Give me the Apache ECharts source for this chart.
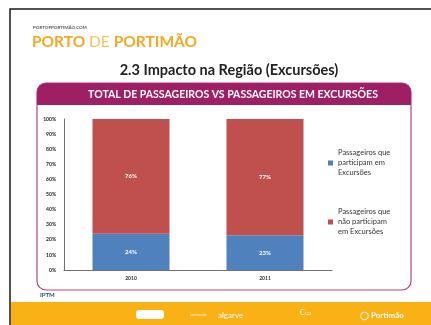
<!DOCTYPE html>
<html>
<head>
<meta charset="utf-8">
<script src="https://cdn.jsdelivr.net/npm/echarts@6/dist/echarts.min.js"></script>
<style>
  html, body { margin: 0; padding: 0; background: #fff; }
  #chart { width: 431px; height: 325px; }
</style>
</head>
<body>
<div id="chart"></div>
<script>
// Share of cruise passengers taking part in shore excursions, per year
const years = ['2010', '2011'];
const seriesNames = [
  'Passageiros que participam em Excursões',
  'Passageiros que não participam em Excursões'
];
const withExcursion = [24, 23];     // %
const withoutExcursion = [76, 77];  // %
const yTicks = [0, 10, 20, 30, 40, 50, 60, 70, 80, 90, 100];

const FONT = 'Lato, "Open Sans", sans-serif';
const PURPLE = '#9E1F63';
const ORANGE = '#F9B115';

const chart = echarts.init(document.getElementById('chart'));

// legend labels wrapped onto three lines
const wrapLegend = name => name === seriesNames[0]
  ? 'Passageiros que\nparticipam em\nExcursões'
  : 'Passageiros que\nnão participam\nem Excursões';

chart.setOption({
  animation: false,
  backgroundColor: '#fff',
  graphic: [
    // slide frame
    { type: 'rect', shape: { x: 10, y: 9, width: 430, height: 330 },
      style: { fill: '#fff', stroke: '#1a1a1a', lineWidth: 1.5 }, z: -10 },
    // footer band
    { type: 'rect', shape: { x: 11, y: 302, width: 425, height: 30 },
      style: { fill: ORANGE }, z: -5 },
    { type: 'text', x: 33, y: 25, style: { text: 'PORTOFPORTIMÃO.COM', font: 'bold 4.5px ' + FONT, fill: '#555' } },
    { type: 'text', x: 32, y: 34, style: { rich: {
        a: { fontSize: 15.5, fontWeight: 'bold', fill: '#F7A823', fontFamily: FONT },
        b: { fontSize: 15.5, fontWeight: 'normal', fill: '#F9C25C', fontFamily: FONT }
      }, text: '{a|PORTO }{b|DE }{a|PORTIMÃO}' } },
    { type: 'text', x: 229, y: 70, style: { text: '2.3 Impacto na Região (Excursões)', fontSize: 14.5, fontWeight: 'bold',
        fontFamily: FONT, fill: '#222', align: 'center', verticalAlign: 'middle' } },
    // chart box + header band
    { type: 'rect', shape: { x: 37, y: 83, width: 374, height: 207, r: 9 },
      style: { fill: '#fff', stroke: '#B8457F', lineWidth: 1.2 }, z: -4 },
    { type: 'rect', shape: { x: 37, y: 83, width: 374, height: 22, r: [9, 9, 0, 0] },
      style: { fill: PURPLE }, z: -3 },
    { type: 'text', x: 233, y: 95, style: { text: 'TOTAL DE PASSAGEIROS VS PASSAGEIROS EM EXCURSÕES', fontSize: 10.5,
        fontWeight: 'bold', fontFamily: FONT, fill: '#fff', align: 'center', verticalAlign: 'middle' } },
    { type: 'text', x: 40, y: 292, style: { text: 'IPTM', fontSize: 6, fontWeight: 'bold', fontFamily: FONT, fill: '#2F4A7A' } },
    // footer marks
    { type: 'rect', shape: { x: 136, y: 310, width: 28, height: 9, r: 3 }, style: { fill: '#fff' } },
    { type: 'text', x: 190, y: 315, style: { text: 'turismo do', fontSize: 3.5, fontFamily: FONT, fill: '#fff', verticalAlign: 'middle' } },
    { type: 'text', x: 218, y: 315, style: { text: 'algarve', fontSize: 8, fontFamily: FONT, fill: '#fff', verticalAlign: 'middle' } },
    { type: 'text', x: 300, y: 313, style: { text: 'C▭', fontSize: 7, fontFamily: FONT, fill: '#fff', verticalAlign: 'middle' } },
    { type: 'text', x: 360, y: 315, style: { text: '◯ Portimão', fontSize: 8, fontWeight: 'bold', fontFamily: FONT, fill: '#fff', verticalAlign: 'middle' } }
  ],
  grid: { left: 64, right: 99, top: 119, bottom: 55 },
  legend: {
    orient: 'vertical',
    left: 328, top: 138,
    padding: 0,
    itemWidth: 5, itemHeight: 5, itemGap: 9,
    icon: 'rect',
    data: seriesNames,
    formatter: wrapLegend,
    // top padding keeps each swatch level with the first text line
    textStyle: { fontSize: 7.5, fontFamily: FONT, color: '#333', lineHeight: 10, padding: [20, 0, 0, 0] },
    align: 'left'
  },
  xAxis: {
    type: 'category',
    data: years,
    axisLine: { lineStyle: { color: '#707070', width: 1 } },
    axisTick: { show: false },
    axisLabel: { fontSize: 5, fontWeight: 'bold', color: '#333', fontFamily: FONT, margin: 6 }
  },
  yAxis: {
    type: 'value',
    min: 0, max: 100, interval: 10,
    axisLine: { show: true, lineStyle: { color: '#707070', width: 1 } },
    axisTick: { show: false },
    splitLine: { show: false },
    axisLabel: {
      fontSize: 5, fontWeight: 'bold', color: '#222', fontFamily: FONT, margin: 8,
      formatter: v => (yTicks.includes(v) ? v + '%' : '')
    }
  },
  series: [
    {
      name: seriesNames[0], type: 'bar', stack: 'total', barWidth: 77,
      data: withExcursion,
      itemStyle: { color: '#4F81BD' },
      label: { show: true, position: 'inside', formatter: '{c}%', color: '#fff', fontSize: 6, fontWeight: 'bold', fontFamily: FONT }
    },
    {
      name: seriesNames[1], type: 'bar', stack: 'total', barWidth: 77,
      data: withoutExcursion,
      itemStyle: { color: '#C0504D' },
      label: { show: true, position: 'inside', formatter: '{c}%', color: '#fff', fontSize: 6, fontWeight: 'bold', fontFamily: FONT }
    }
  ]
});
</script>
</body>
</html>
